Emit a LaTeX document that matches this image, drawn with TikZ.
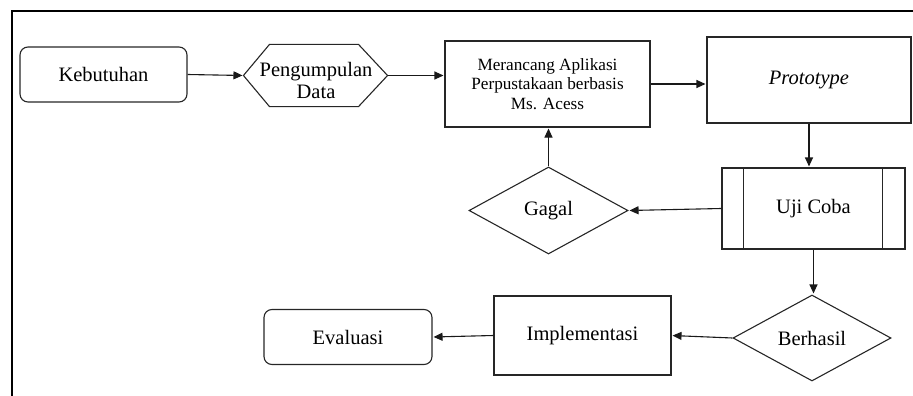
\documentclass[tikz,border=0pt]{standalone}
\usepackage{fontspec}
\setmainfont{Liberation Serif}
\usetikzlibrary{arrows.meta,shapes.geometric,calc}
\begin{document}
\begin{tikzpicture}[x=1pt,y=-1pt,
  box/.style={draw=black!85,line width=1.1pt,inner sep=0pt,align=center,font=\fontsize{20.5}{22}\selectfont},
  rbox/.style={box,rounded corners=8pt},
  dia/.style={box,diamond,aspect=1.83},
  edgeline/.style={draw=black!85,line width=1.1pt},
  conn/.style={draw=black!90,line width=1.1pt,-{Triangle[length=9pt,width=8pt]},shorten >=1pt}
]
\useasboundingbox (0,0) rectangle (913,396);
\draw[line width=2pt] (12,396) -- (12,11) -- (913,11);

\node[rbox,minimum width=167pt,minimum height=55pt] (keb) at (103.5,74.5) {Kebutuhan};
\node[box,draw=none,minimum width=143pt,minimum height=61pt] (pd) at (315.5,75.5) {};
\node[box,draw=none] (pdtext) at (316,80) {Pengumpulan\\Data};
\draw[edgeline] (pd.west) -- ($(pd.north west)+(26,0)$) -- ($(pd.north east)+(-29,0)$) -- (pd.east) -- ($(pd.south east)+(-29,0)$) -- ($(pd.south west)+(26,0)$) -- cycle;
\node[box,minimum width=205pt,minimum height=86pt,font=\fontsize{17.2}{19.5}\selectfont] (mer) at (547.5,84) {Merancang Aplikasi\\Perpustakaan berbasis\\Ms. Acess};
\node[box,minimum width=204pt,minimum height=86pt,font=\fontsize{20.5}{22}\selectfont\itshape] (proto) at (809,80) {Prototype};
\node[box,minimum width=183pt,minimum height=81pt] (uji) at (813.5,208.5) {Uji Coba};
\draw[edgeline] ($(uji.north west)+(22,0)$) -- ($(uji.south west)+(22,0)$);
\draw[edgeline] ($(uji.north east)+(-23,0)$) -- ($(uji.south east)+(-23,0)$);
\node[dia,minimum width=159pt,minimum height=87pt] (gagal) at (548.5,210.5) {Gagal};
\node[dia,minimum width=158pt,minimum height=86pt] (berhasil) at (812,338) {Berhasil};
\node[box,minimum width=177pt,minimum height=79pt] (impl) at (582.5,335.5) {Implementasi};
\node[rbox,minimum width=168pt,minimum height=55pt] (eval) at (348,337) {Evaluasi};

\draw[conn] (keb.east) -- (pd.west);
\draw[conn] (pd.east) -- (pd.east -| mer.west);
\draw[conn] (mer.east) -- (mer.east -| proto.west);
\draw[conn] (proto.south) -- (proto.south |- uji.north);
\draw[conn] (uji.west) -- (gagal.east);
\draw[conn] (gagal.north) -- (gagal.north |- mer.south);
\draw[conn] (uji.south) -- (uji.south |- berhasil.north);
\draw[conn] (berhasil.west) -- (impl.east);
\draw[conn] (impl.west) -- (eval.east);
\end{tikzpicture}
\end{document}
